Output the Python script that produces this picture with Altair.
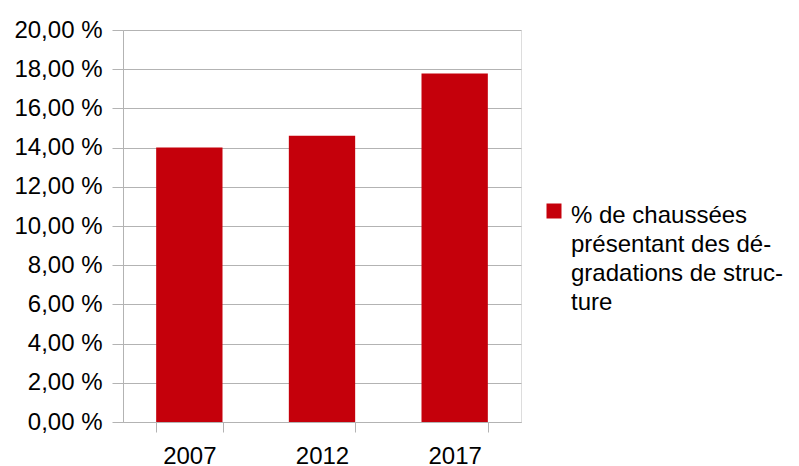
import altair as alt
import pandas as pd

# ---- data ----
years = ["2007", "2012", "2017"]
values = [14.0, 14.6, 17.78]
series_name = "% de chaussées présentant des dégradations de structure"
legend_lines = ["% de chaussées", "présentant des dé-", "gradations de struc-", "ture"]
y_ticks = [0, 2, 4, 6, 8, 10, 12, 14, 16, 18, 20]

df = pd.DataFrame({"year": years, "value": values, "series": series_name})
legend_df = pd.DataFrame({"series": [series_name]})

FONT = "Liberation Sans"
GRID = "#b3b3b3"
RED = "#c5000b"
FS = 24

bars = alt.Chart(df).mark_bar(color=RED).encode(
    x=alt.X(
        "year:N",
        sort=years,
        scale=alt.Scale(paddingInner=0.5, paddingOuter=0.25),
        axis=alt.Axis(
            title=None,
            labelAngle=0,
            tickBand="extent",
            grid=False,
            domainColor=GRID,
            tickColor=GRID,
            tickSize=10,
            labelPadding=12,
            labelFont=FONT,
            labelFontSize=FS,
            labelColor="black",
        ),
    ),
    y=alt.Y(
        "value:Q",
        scale=alt.Scale(domain=[0, 20], nice=False),
        axis=alt.Axis(
            title=None,
            values=y_ticks,
            labelExpr="replace(format(datum.value, '.2f'), '.', ',') + ' %'",
            grid=True,
            gridColor=GRID,
            domainColor=GRID,
            tickColor=GRID,
            tickSize=11,
            labelPadding=10,
            labelFont=FONT,
            labelFontSize=FS,
            labelColor="black",
        ),
    ),
)

legend_square = alt.Chart(legend_df).mark_square(
    color=RED, size=225, opacity=1
).encode(x=alt.value(431), y=alt.value(181))

legend_text = alt.Chart(legend_df).mark_text(
    text=legend_lines,
    align="left",
    baseline="alphabetic",
    font=FONT,
    fontSize=FS,
    lineHeight=29,
    color="black",
).encode(x=alt.value(448), y=alt.value(193))

chart = (
    alt.layer(bars, legend_square, legend_text)
    .properties(
        width=398,
        height=392,
        autosize=alt.AutoSizeParams(type="none"),
        padding={"left": 115, "top": 22, "right": 270, "bottom": 44},
    )
    .configure_view(stroke=GRID, strokeWidth=1)
    .configure(background="white")
)

chart.save("out.html", embed_options={"renderer": "svg", "actions": False})
